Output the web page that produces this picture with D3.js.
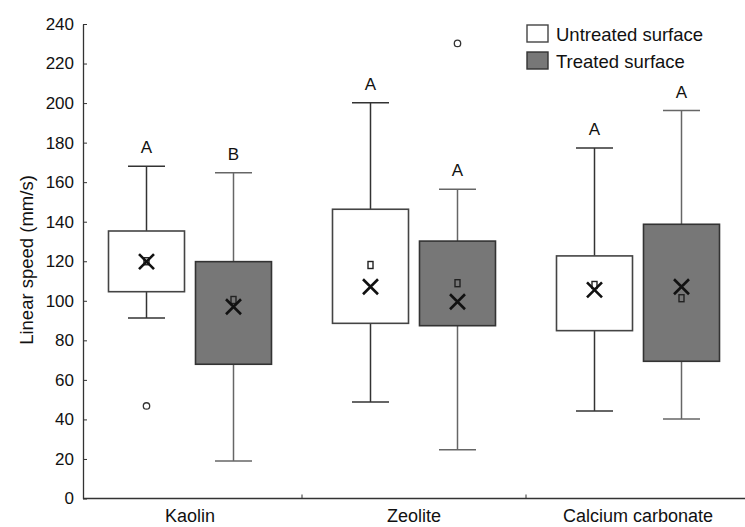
<!DOCTYPE html>
<html><head><meta charset="utf-8">
<script src="https://cdn.jsdelivr.net/npm/d3@7"></script>
<style>body{margin:0;background:#fff}svg{display:block}</style>
</head><body><svg id="c" width="745" height="527"></svg>
<script>
const categories = ["Kaolin", "Zeolite", "Calcium carbonate"];
const series = ["Untreated surface", "Treated surface"];
const yTicks = [0, 20, 40, 60, 80, 100, 120, 140, 160, 180, 200, 220, 240];

const untreatedMin = [91.3, 48.8, 44.3];
const untreatedQ1 = [104.6, 88.6, 84.9];
const untreatedQ3 = [135.3, 146.3, 122.7];
const untreatedMax = [168, 200.2, 177.3];
const untreatedMedian = [120, 118.1, 108];
const untreatedMean = [119.8, 107.1, 105.5];
const untreatedOutliers = [[46.8], [], []];
const untreatedLetters = ["A", "A", "A"];

const treatedMin = [19, 24.7, 40.2];
const treatedQ1 = [67.9, 87.4, 69.4];
const treatedQ3 = [119.8, 130.2, 138.7];
const treatedMax = [164.8, 156.4, 196.2];
const treatedMedian = [100.4, 108.9, 101.3];
const treatedMean = [97, 99.5, 107.1];
const treatedOutliers = [[], [230.2], []];
const treatedLetters = ["B", "A", "A"];

const seriesStyle = {
  "Untreated surface": {fill: "#ffffff", stroke: "#444", whisker: "#333"},
  "Treated surface": {fill: "#777777", stroke: "#333", whisker: "#666"}
};

const rows = [];
categories.forEach((c, i) => {
  rows.push({cat: c, ser: series[0], min: untreatedMin[i], q1: untreatedQ1[i], q3: untreatedQ3[i], max: untreatedMax[i],
    med: untreatedMedian[i], mean: untreatedMean[i], out: untreatedOutliers[i], letter: untreatedLetters[i]});
  rows.push({cat: c, ser: series[1], min: treatedMin[i], q1: treatedQ1[i], q3: treatedQ3[i], max: treatedMax[i],
    med: treatedMedian[i], mean: treatedMean[i], out: treatedOutliers[i], letter: treatedLetters[i]});
});

const font = "'Liberation Sans', Arial, sans-serif";
const svg = d3.select("#c");
const x = d3.scaleBand().domain(categories).range([78, 750]);
const xs = d3.scaleBand().domain(series).range([-81.5, 81.5]).paddingInner(0.1264);
const y = d3.scaleLinear().domain([0, 240]).range([498.5, 24]);
const cx = d => x(d.cat) + x.bandwidth() / 2 + xs(d.ser) + xs.bandwidth() / 2;
const bw = xs.bandwidth();
const cap = 18.5;

// Y axis
const ya = svg.append("g").attr("transform", "translate(83,0)")
  .call(d3.axisLeft(y).tickValues(yTicks).tickSizeInner(-4).tickSizeOuter(0).tickPadding(9));
ya.select(".domain").attr("stroke", "#333").attr("stroke-width", 1.3);
ya.selectAll(".tick line").attr("stroke", "#333");
ya.selectAll(".tick text").attr("font-family", font).attr("font-size", 17).attr("fill", "#111");

// X axis
svg.append("line").attr("x1", 83).attr("x2", 745).attr("y1", y(0)).attr("y2", y(0))
  .attr("stroke", "#333").attr("stroke-width", 1.3);
svg.selectAll(".xt").data(categories.slice(1)).enter().append("line")
  .attr("x1", d => x(d)).attr("x2", d => x(d)).attr("y1", y(0)).attr("y2", y(0) - 4)
  .attr("stroke", "#333");
svg.selectAll(".xl").data(categories).enter().append("text")
  .attr("x", d => x(d) + x.bandwidth() / 2).attr("y", 522)
  .attr("text-anchor", "middle").attr("font-family", font).attr("font-size", 18).attr("fill", "#111")
  .text(d => d);

// Y title
svg.append("text").attr("transform", "translate(33,260) rotate(-90)")
  .attr("text-anchor", "middle").attr("font-family", font).attr("font-size", 18.5).attr("fill", "#111")
  .text("Linear speed (mm/s)");

const g = svg.selectAll(".box").data(rows).enter().append("g");
// whiskers
g.append("line").attr("x1", cx).attr("x2", cx).attr("y1", d => y(d.q3)).attr("y2", d => y(d.max))
  .attr("stroke", d => seriesStyle[d.ser].whisker).attr("stroke-width", 1.5);
g.append("line").attr("x1", cx).attr("x2", cx).attr("y1", d => y(d.q1)).attr("y2", d => y(d.min))
  .attr("stroke", d => seriesStyle[d.ser].whisker).attr("stroke-width", 1.5);
g.append("line").attr("x1", d => cx(d) - cap).attr("x2", d => cx(d) + cap).attr("y1", d => y(d.max)).attr("y2", d => y(d.max))
  .attr("stroke", d => seriesStyle[d.ser].whisker).attr("stroke-width", 1.5);
g.append("line").attr("x1", d => cx(d) - cap).attr("x2", d => cx(d) + cap).attr("y1", d => y(d.min)).attr("y2", d => y(d.min))
  .attr("stroke", d => seriesStyle[d.ser].whisker).attr("stroke-width", 1.5);
// boxes
g.append("rect").attr("x", d => cx(d) - bw / 2).attr("width", bw)
  .attr("y", d => y(d.q3)).attr("height", d => y(d.q1) - y(d.q3))
  .attr("fill", d => seriesStyle[d.ser].fill).attr("stroke", d => seriesStyle[d.ser].stroke).attr("stroke-width", 1.6);
// median square
g.append("rect").attr("x", d => cx(d) - 2.5).attr("y", d => y(d.med) - 3.5).attr("width", 5).attr("height", 7)
  .attr("fill", "none").attr("stroke", "#222").attr("stroke-width", 1.4);
// mean X
g.append("path").attr("d", d => {
  const px = cx(d), py = y(d.mean), s = 7.5;
  return `M${px - s},${py - s}L${px + s},${py + s}M${px - s},${py + s}L${px + s},${py - s}`;
}).attr("stroke", "#111").attr("stroke-width", 2.6).attr("fill", "none");
// outliers
g.each(function(d) {
  d3.select(this).selectAll("circle").data(d.out).enter().append("circle")
    .attr("cx", cx(d)).attr("cy", v => y(v)).attr("r", 3.2)
    .attr("fill", "#fff").attr("stroke", "#333").attr("stroke-width", 1.3);
});
// letters
g.append("text").attr("x", cx).attr("y", d => y(d.max) - 13)
  .attr("text-anchor", "middle").attr("font-family", font).attr("font-size", 17).attr("fill", "#111")
  .text(d => d.letter);

// legend
const lg = svg.selectAll(".lg").data(series).enter().append("g")
  .attr("transform", (d, i) => `translate(527,${25 + i * 27})`);
lg.append("rect").attr("width", 21).attr("height", 17)
  .attr("fill", d => seriesStyle[d].fill).attr("stroke", d => seriesStyle[d].stroke).attr("stroke-width", 1.4);
lg.append("text").attr("x", 29).attr("y", 16).attr("font-family", font).attr("font-size", 18.5).attr("fill", "#111")
  .text(d => d);
</script></body></html>
